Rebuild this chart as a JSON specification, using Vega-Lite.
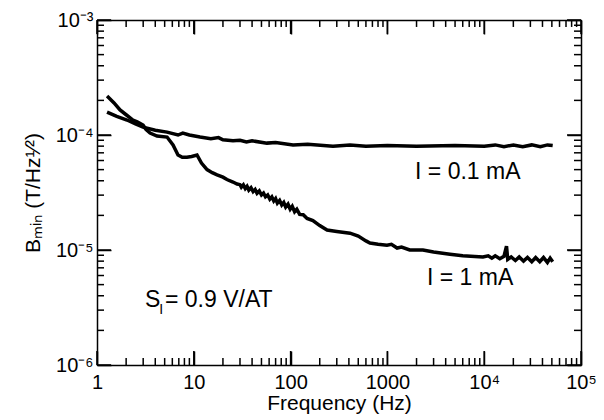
{
  "$schema": "https://vega.github.io/schema/vega-lite/v6.json",
  "width": 484,
  "height": 345,
  "autosize": {"type": "none"},
  "padding": {"left": 97, "top": 20, "right": 23, "bottom": 55},
  "background": "white",
  "config": {
    "view": {"stroke": null},
    "font": "Liberation Sans",
    "axis": {
      "domainColor": "black",
      "domainWidth": 1.5,
      "tickColor": "black",
      "tickWidth": 1.5,
      "grid": false,
      "labelColor": "black",
      "titleColor": "black",
      "labelOverlap": false,
      "labelFlush": false
    }
  },
  "datasets": {
    "curves": [
      {"f": 1.27, "b": 0.000158, "s": "0.1 mA"},
      {"f": 1.6, "b": 0.000145, "s": "0.1 mA"},
      {"f": 2.04, "b": 0.000135, "s": "0.1 mA"},
      {"f": 2.5, "b": 0.000125, "s": "0.1 mA"},
      {"f": 2.99, "b": 0.000117, "s": "0.1 mA"},
      {"f": 4.0, "b": 0.00011, "s": "0.1 mA"},
      {"f": 5.29, "b": 0.000106, "s": "0.1 mA"},
      {"f": 6.87, "b": 0.0001, "s": "0.1 mA"},
      {"f": 7.7, "b": 0.000104, "s": "0.1 mA"},
      {"f": 9.0, "b": 0.0001, "s": "0.1 mA"},
      {"f": 11.6, "b": 0.000096, "s": "0.1 mA"},
      {"f": 15, "b": 0.000093, "s": "0.1 mA"},
      {"f": 18, "b": 0.000095, "s": "0.1 mA"},
      {"f": 20, "b": 0.000091, "s": "0.1 mA"},
      {"f": 25.4, "b": 0.000089, "s": "0.1 mA"},
      {"f": 30, "b": 0.00009, "s": "0.1 mA"},
      {"f": 35, "b": 0.000087, "s": "0.1 mA"},
      {"f": 40, "b": 0.000089, "s": "0.1 mA"},
      {"f": 57, "b": 0.000085, "s": "0.1 mA"},
      {"f": 70, "b": 0.000086, "s": "0.1 mA"},
      {"f": 106, "b": 0.000082, "s": "0.1 mA"},
      {"f": 150, "b": 0.000083, "s": "0.1 mA"},
      {"f": 274, "b": 0.00008, "s": "0.1 mA"},
      {"f": 411, "b": 0.000082, "s": "0.1 mA"},
      {"f": 600, "b": 0.00008, "s": "0.1 mA"},
      {"f": 1000, "b": 0.000081, "s": "0.1 mA"},
      {"f": 2000, "b": 0.00008, "s": "0.1 mA"},
      {"f": 5000, "b": 0.000081, "s": "0.1 mA"},
      {"f": 10000, "b": 0.00008, "s": "0.1 mA"},
      {"f": 13000, "b": 0.000082, "s": "0.1 mA"},
      {"f": 16000, "b": 0.000079, "s": "0.1 mA"},
      {"f": 20000, "b": 0.000082, "s": "0.1 mA"},
      {"f": 25000, "b": 0.000079, "s": "0.1 mA"},
      {"f": 31000, "b": 0.000082, "s": "0.1 mA"},
      {"f": 38000, "b": 0.000079, "s": "0.1 mA"},
      {"f": 45000, "b": 0.000082, "s": "0.1 mA"},
      {"f": 51000, "b": 0.000081, "s": "0.1 mA"},

      {"f": 1.27, "b": 0.000218, "s": "1 mA"},
      {"f": 1.5, "b": 0.00019, "s": "1 mA"},
      {"f": 1.73, "b": 0.000165, "s": "1 mA"},
      {"f": 2.0, "b": 0.00015, "s": "1 mA"},
      {"f": 2.35, "b": 0.000135, "s": "1 mA"},
      {"f": 2.6, "b": 0.00013, "s": "1 mA"},
      {"f": 2.99, "b": 0.000122, "s": "1 mA"},
      {"f": 3.2, "b": 0.000112, "s": "1 mA"},
      {"f": 3.53, "b": 0.000104, "s": "1 mA"},
      {"f": 4.17, "b": 0.000098, "s": "1 mA"},
      {"f": 5.29, "b": 0.000096, "s": "1 mA"},
      {"f": 6.1, "b": 0.000082, "s": "1 mA"},
      {"f": 6.87, "b": 0.000067, "s": "1 mA"},
      {"f": 7.6, "b": 0.000064, "s": "1 mA"},
      {"f": 8.5, "b": 0.000064, "s": "1 mA"},
      {"f": 9.5, "b": 0.000065, "s": "1 mA"},
      {"f": 10.8, "b": 0.000067, "s": "1 mA"},
      {"f": 12, "b": 0.000057, "s": "1 mA"},
      {"f": 13.7, "b": 0.00005, "s": "1 mA"},
      {"f": 15.5, "b": 0.000047, "s": "1 mA"},
      {"f": 17.4, "b": 0.000045, "s": "1 mA"},
      {"f": 20, "b": 0.000043, "s": "1 mA"},
      {"f": 22, "b": 0.000041, "s": "1 mA"},
      {"f": 25.4, "b": 0.000039, "s": "1 mA"},
      {"f": 28, "b": 0.0000375, "s": "1 mA"},
      {"f": 30, "b": 0.000037, "s": "1 mA"},
      {"f": 31, "b": 0.0000352, "s": "1 mA"},
      {"f": 32.5, "b": 0.0000368, "s": "1 mA"},
      {"f": 34, "b": 0.0000342, "s": "1 mA"},
      {"f": 35.5, "b": 0.0000358, "s": "1 mA"},
      {"f": 37, "b": 0.0000332, "s": "1 mA"},
      {"f": 39, "b": 0.0000348, "s": "1 mA"},
      {"f": 41, "b": 0.0000322, "s": "1 mA"},
      {"f": 43, "b": 0.0000336, "s": "1 mA"},
      {"f": 45, "b": 0.0000311, "s": "1 mA"},
      {"f": 47.5, "b": 0.0000326, "s": "1 mA"},
      {"f": 50, "b": 0.0000301, "s": "1 mA"},
      {"f": 52.5, "b": 0.0000313, "s": "1 mA"},
      {"f": 55, "b": 0.000029, "s": "1 mA"},
      {"f": 58, "b": 0.0000301, "s": "1 mA"},
      {"f": 61, "b": 0.0000277, "s": "1 mA"},
      {"f": 64, "b": 0.000029, "s": "1 mA"},
      {"f": 67, "b": 0.0000267, "s": "1 mA"},
      {"f": 70, "b": 0.000028, "s": "1 mA"},
      {"f": 73, "b": 0.0000256, "s": "1 mA"},
      {"f": 77, "b": 0.000027, "s": "1 mA"},
      {"f": 81, "b": 0.0000246, "s": "1 mA"},
      {"f": 85, "b": 0.0000259, "s": "1 mA"},
      {"f": 89, "b": 0.0000236, "s": "1 mA"},
      {"f": 94, "b": 0.000025, "s": "1 mA"},
      {"f": 99, "b": 0.0000226, "s": "1 mA"},
      {"f": 104, "b": 0.000024, "s": "1 mA"},
      {"f": 110, "b": 0.0000215, "s": "1 mA"},
      {"f": 116, "b": 0.0000226, "s": "1 mA"},
      {"f": 124, "b": 0.0000204, "s": "1 mA"},
      {"f": 135, "b": 0.0000203, "s": "1 mA"},
      {"f": 148, "b": 0.0000188, "s": "1 mA"},
      {"f": 170, "b": 0.000018, "s": "1 mA"},
      {"f": 200, "b": 0.0000163, "s": "1 mA"},
      {"f": 238, "b": 0.0000149, "s": "1 mA"},
      {"f": 300, "b": 0.0000145, "s": "1 mA"},
      {"f": 411, "b": 0.000014, "s": "1 mA"},
      {"f": 500, "b": 0.0000132, "s": "1 mA"},
      {"f": 600, "b": 0.000012, "s": "1 mA"},
      {"f": 661, "b": 0.0000115, "s": "1 mA"},
      {"f": 800, "b": 0.0000112, "s": "1 mA"},
      {"f": 990, "b": 0.000011, "s": "1 mA"},
      {"f": 1100, "b": 0.0000112, "s": "1 mA"},
      {"f": 1260, "b": 0.0000104, "s": "1 mA"},
      {"f": 1400, "b": 0.0000106, "s": "1 mA"},
      {"f": 1700, "b": 0.00001, "s": "1 mA"},
      {"f": 2330, "b": 0.00001, "s": "1 mA"},
      {"f": 3000, "b": 0.0000096, "s": "1 mA"},
      {"f": 4430, "b": 0.0000092, "s": "1 mA"},
      {"f": 6000, "b": 0.0000089, "s": "1 mA"},
      {"f": 8000, "b": 0.0000088, "s": "1 mA"},
      {"f": 9700, "b": 0.0000087, "s": "1 mA"},
      {"f": 11000, "b": 0.0000089, "s": "1 mA"},
      {"f": 12000, "b": 0.0000085, "s": "1 mA"},
      {"f": 13000, "b": 0.0000089, "s": "1 mA"},
      {"f": 14500, "b": 0.0000084, "s": "1 mA"},
      {"f": 16000, "b": 0.0000088, "s": "1 mA"},
      {"f": 17000, "b": 0.0000108, "s": "1 mA"},
      {"f": 17500, "b": 0.0000083, "s": "1 mA"},
      {"f": 19000, "b": 0.0000087, "s": "1 mA"},
      {"f": 21000, "b": 0.0000081, "s": "1 mA"},
      {"f": 23000, "b": 0.0000087, "s": "1 mA"},
      {"f": 25500, "b": 0.000008, "s": "1 mA"},
      {"f": 28000, "b": 0.0000086, "s": "1 mA"},
      {"f": 31000, "b": 0.0000079, "s": "1 mA"},
      {"f": 34000, "b": 0.0000086, "s": "1 mA"},
      {"f": 37500, "b": 0.0000079, "s": "1 mA"},
      {"f": 41000, "b": 0.0000086, "s": "1 mA"},
      {"f": 45000, "b": 0.0000078, "s": "1 mA"},
      {"f": 48000, "b": 0.0000085, "s": "1 mA"},
      {"f": 51000, "b": 0.0000079, "s": "1 mA"}
    ],
    "notes": [
      {"f": 1930, "b": 0.0000477, "t": "I = 0.1 mA"},
      {"f": 2565, "b": 0.00000571, "t": "I = 1 mA"},
      {"f": 3.13, "b": 0.00000367, "t": "S"},
      {"f": 4.4, "b": 0.000003, "t": "I"},
      {"f": 5.04, "b": 0.00000367, "t": "= 0.9 V/AT"}
    ],
    "xticks": [
      {"v": 1, "k": "major"}, {"v": 2, "k": "minor"}, {"v": 3, "k": "minor"}, {"v": 4, "k": "minor"}, {"v": 5, "k": "minor"}, {"v": 6, "k": "minor"}, {"v": 7, "k": "minor"}, {"v": 8, "k": "minor"}, {"v": 9, "k": "minor"},
      {"v": 10, "k": "major"}, {"v": 20, "k": "minor"}, {"v": 30, "k": "minor"}, {"v": 40, "k": "minor"}, {"v": 50, "k": "minor"}, {"v": 60, "k": "minor"}, {"v": 70, "k": "minor"}, {"v": 80, "k": "minor"}, {"v": 90, "k": "minor"},
      {"v": 100, "k": "major"}, {"v": 200, "k": "minor"}, {"v": 300, "k": "minor"}, {"v": 400, "k": "minor"}, {"v": 500, "k": "minor"}, {"v": 600, "k": "minor"}, {"v": 700, "k": "minor"}, {"v": 800, "k": "minor"}, {"v": 900, "k": "minor"},
      {"v": 1000, "k": "major"}, {"v": 2000, "k": "minor"}, {"v": 3000, "k": "minor"}, {"v": 4000, "k": "minor"}, {"v": 5000, "k": "minor"}, {"v": 6000, "k": "minor"}, {"v": 7000, "k": "minor"}, {"v": 8000, "k": "minor"}, {"v": 9000, "k": "minor"},
      {"v": 10000, "k": "major"}, {"v": 20000, "k": "minor"}, {"v": 30000, "k": "minor"}, {"v": 40000, "k": "minor"}, {"v": 50000, "k": "minor"}, {"v": 60000, "k": "minor"}, {"v": 70000, "k": "minor"}, {"v": 80000, "k": "minor"}, {"v": 90000, "k": "minor"},
      {"v": 100000, "k": "major"}
    ],
    "yticks": [
      {"v": 0.000001, "k": "major"}, {"v": 0.000002, "k": "minor"}, {"v": 0.000003, "k": "minor"}, {"v": 0.000004, "k": "minor"}, {"v": 0.000005, "k": "minor"}, {"v": 0.000006, "k": "minor"}, {"v": 0.000007, "k": "minor"}, {"v": 0.000008, "k": "minor"}, {"v": 0.000009, "k": "minor"},
      {"v": 0.00001, "k": "major"}, {"v": 0.00002, "k": "minor"}, {"v": 0.00003, "k": "minor"}, {"v": 0.00004, "k": "minor"}, {"v": 0.00005, "k": "minor"}, {"v": 0.00006, "k": "minor"}, {"v": 0.00007, "k": "minor"}, {"v": 0.00008, "k": "minor"}, {"v": 0.00009, "k": "minor"},
      {"v": 0.0001, "k": "major"}, {"v": 0.0002, "k": "minor"}, {"v": 0.0003, "k": "minor"}, {"v": 0.0004, "k": "minor"}, {"v": 0.0005, "k": "minor"}, {"v": 0.0006, "k": "minor"}, {"v": 0.0007, "k": "minor"}, {"v": 0.0008, "k": "minor"}, {"v": 0.0009, "k": "minor"},
      {"v": 0.001, "k": "major"}
    ]
  },
  "layer": [
    {
      "data": {"name": "curves"},
      "transform": [{"filter": "datum.s == '0.1 mA'"}],
      "mark": {"type": "line", "color": "black", "strokeWidth": 3.5},
      "encoding": {
        "x": {
          "field": "f", "type": "quantitative",
          "scale": {"type": "log", "domain": [1, 100000], "nice": false},
          "axis": {
            "orient": "bottom",
            "title": "Frequency (Hz)",
            "titleFontSize": 21,
            "titleFontWeight": "normal",
            "titlePadding": 0,
            "labelFontSize": 20,
            "labelPadding": 21,
            "values": [1, 10, 100, 1000, 10000, 100000],
            "labelExpr": "datum.value == 1 ? '1' : datum.value == 10 ? '10' : datum.value == 100 ? '100' : datum.value == 1000 ? '1000' : datum.value == 10000 ? '10⁴' : '10⁵'",
            "tickSize": -14
          }
        },
        "y": {
          "field": "b", "type": "quantitative",
          "scale": {"type": "log", "domain": [0.000001, 0.001], "nice": false},
          "axis": {
            "orient": "left",
            "title": "Bₘᵢₙ (T/Hz¹⁄²)",
            "titleFontSize": 21,
            "titleFontWeight": "normal",
            "titlePadding": 12,
            "labelFontSize": 20,
            "labelPadding": 18,
            "values": [0.000001, 0.00001, 0.0001, 0.001],
            "labelExpr": "datum.value == 0.001 ? '10⁻³' : datum.value == 0.0001 ? '10⁻⁴' : datum.value == 0.00001 ? '10⁻⁵' : '10⁻⁶'",
            "tickSize": -14
          }
        }
      }
    },
    {
      "data": {"name": "curves"},
      "transform": [{"filter": "datum.s == '1 mA'"}],
      "mark": {"type": "line", "color": "black", "strokeWidth": 3.5},
      "encoding": {
        "x": {"field": "f", "type": "quantitative", "axis": null},
        "y": {"field": "b", "type": "quantitative", "axis": null}
      }
    },
    {
      "data": {"name": "notes"},
      "mark": {"type": "text", "align": "left", "baseline": "middle", "color": "black"},
      "encoding": {
        "x": {
          "field": "f", "type": "quantitative",
          "axis": {"orient": "top", "title": null, "labels": false, "values": [1, 10, 100, 1000, 10000, 100000], "tickSize": -14}
        },
        "y": {
          "field": "b", "type": "quantitative",
          "axis": {"orient": "right", "title": null, "labels": false, "values": [0.000001, 0.00001, 0.0001, 0.001], "tickSize": -14}
        },
        "text": {"field": "t", "type": "nominal"},
        "size": {"condition": {"test": "datum.t == 'I'", "value": 14}, "value": 23}
      }
    },
    {
      "data": {"name": "xticks"},
      "transform": [{"filter": "datum.k == 'major'"}],
      "mark": {"type": "rule", "color": "black", "strokeWidth": 1.5},
      "encoding": {
        "x": {"field": "v", "type": "quantitative", "axis": null},
        "y": {"datum": 0.000001, "type": "quantitative", "axis": null},
        "y2": {"datum": 0.000001323}
      }
    },
    {
      "data": {"name": "xticks"},
      "transform": [{"filter": "datum.k == 'minor'"}],
      "mark": {"type": "rule", "color": "black", "strokeWidth": 1.5},
      "encoding": {
        "x": {"field": "v", "type": "quantitative", "axis": null},
        "y": {"datum": 0.000001, "type": "quantitative", "axis": null},
        "y2": {"datum": 0.00000115}
      }
    },
    {
      "data": {"name": "xticks"},
      "transform": [{"filter": "datum.k == 'major'"}],
      "mark": {"type": "rule", "color": "black", "strokeWidth": 1.5},
      "encoding": {
        "x": {"field": "v", "type": "quantitative", "axis": null},
        "y": {"datum": 0.001, "type": "quantitative", "axis": null},
        "y2": {"datum": 0.000756}
      }
    },
    {
      "data": {"name": "xticks"},
      "transform": [{"filter": "datum.k == 'minor'"}],
      "mark": {"type": "rule", "color": "black", "strokeWidth": 1.5},
      "encoding": {
        "x": {"field": "v", "type": "quantitative", "axis": null},
        "y": {"datum": 0.001, "type": "quantitative", "axis": null},
        "y2": {"datum": 0.00087}
      }
    },
    {
      "data": {"name": "yticks"},
      "transform": [{"filter": "datum.k == 'major'"}],
      "mark": {"type": "rule", "color": "black", "strokeWidth": 1.5},
      "encoding": {
        "y": {"field": "v", "type": "quantitative", "axis": null},
        "x": {"datum": 1, "type": "quantitative", "axis": null},
        "x2": {"datum": 1.395}
      }
    },
    {
      "data": {"name": "yticks"},
      "transform": [{"filter": "datum.k == 'minor'"}],
      "mark": {"type": "rule", "color": "black", "strokeWidth": 1.5},
      "encoding": {
        "y": {"field": "v", "type": "quantitative", "axis": null},
        "x": {"datum": 1, "type": "quantitative", "axis": null},
        "x2": {"datum": 1.181}
      }
    },
    {
      "data": {"name": "yticks"},
      "transform": [{"filter": "datum.k == 'major'"}],
      "mark": {"type": "rule", "color": "black", "strokeWidth": 1.5},
      "encoding": {
        "y": {"field": "v", "type": "quantitative", "axis": null},
        "x": {"datum": 100000, "type": "quantitative", "axis": null},
        "x2": {"datum": 71700}
      }
    },
    {
      "data": {"name": "yticks"},
      "transform": [{"filter": "datum.k == 'minor'"}],
      "mark": {"type": "rule", "color": "black", "strokeWidth": 1.5},
      "encoding": {
        "y": {"field": "v", "type": "quantitative", "axis": null},
        "x": {"datum": 100000, "type": "quantitative", "axis": null},
        "x2": {"datum": 84660}
      }
    }
  ],
  "resolve": {"axis": {"x": "independent", "y": "independent"}}
}
